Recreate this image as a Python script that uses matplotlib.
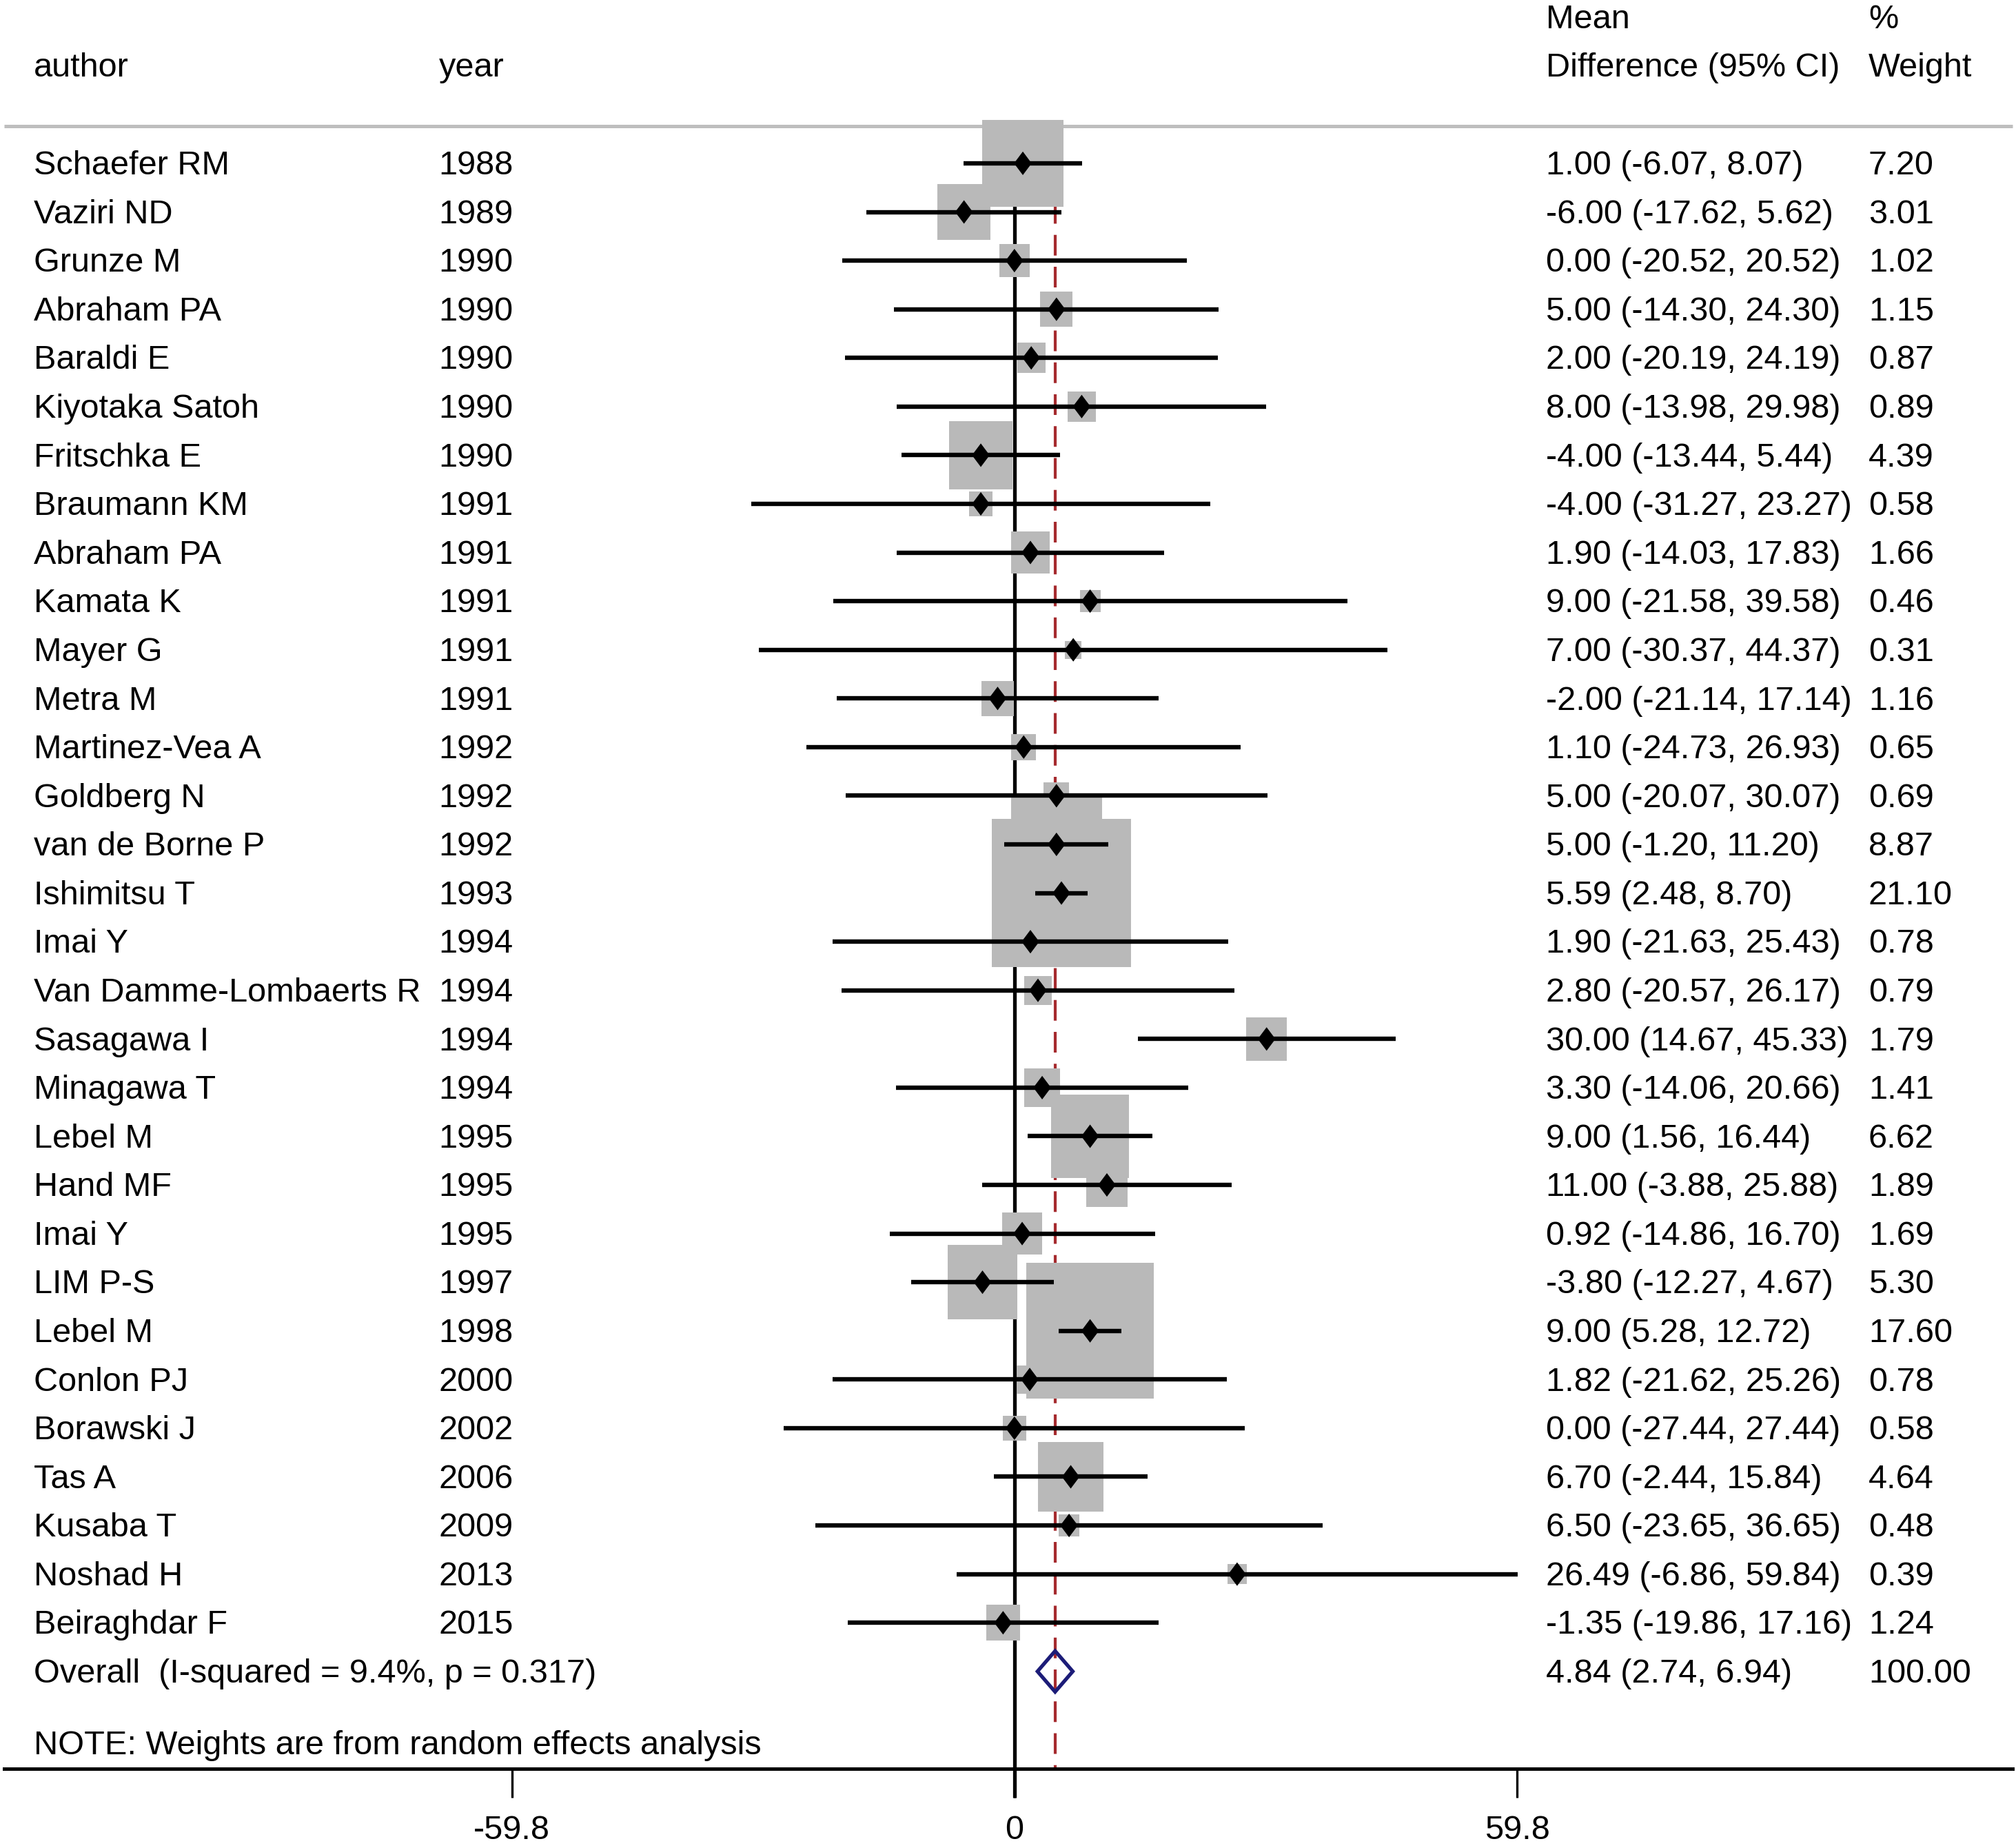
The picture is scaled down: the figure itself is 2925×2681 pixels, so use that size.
import matplotlib.pyplot as plt

# study data
authors = ["Schaefer RM", "Vaziri ND", "Grunze M", "Abraham PA", "Baraldi E",
           "Kiyotaka Satoh", "Fritschka E", "Braumann KM", "Abraham PA", "Kamata K",
           "Mayer G", "Metra M", "Martinez-Vea A", "Goldberg N", "van de Borne P",
           "Ishimitsu T", "Imai Y", "Van Damme-Lombaerts R", "Sasagawa I", "Minagawa T",
           "Lebel M", "Hand MF", "Imai Y", "LIM P-S", "Lebel M",
           "Conlon PJ", "Borawski J", "Tas A", "Kusaba T", "Noshad H", "Beiraghdar F"]
years = [1988, 1989, 1990, 1990, 1990, 1990, 1990, 1991, 1991, 1991,
         1991, 1991, 1992, 1992, 1992, 1993, 1994, 1994, 1994, 1994,
         1995, 1995, 1995, 1997, 1998, 2000, 2002, 2006, 2009, 2013, 2015]
md = [1.00, -6.00, 0.00, 5.00, 2.00, 8.00, -4.00, -4.00, 1.90, 9.00,
      7.00, -2.00, 1.10, 5.00, 5.00, 5.59, 1.90, 2.80, 30.00, 3.30,
      9.00, 11.00, 0.92, -3.80, 9.00, 1.82, 0.00, 6.70, 6.50, 26.49, -1.35]
ci_lo = [-6.07, -17.62, -20.52, -14.30, -20.19, -13.98, -13.44, -31.27, -14.03, -21.58,
         -30.37, -21.14, -24.73, -20.07, -1.20, 2.48, -21.63, -20.57, 14.67, -14.06,
         1.56, -3.88, -14.86, -12.27, 5.28, -21.62, -27.44, -2.44, -23.65, -6.86, -19.86]
ci_hi = [8.07, 5.62, 20.52, 24.30, 24.19, 29.98, 5.44, 23.27, 17.83, 39.58,
         44.37, 17.14, 26.93, 30.07, 11.20, 8.70, 25.43, 26.17, 45.33, 20.66,
         16.44, 25.88, 16.70, 4.67, 12.72, 25.26, 27.44, 15.84, 36.65, 59.84, 17.16]
weights = [7.20, 3.01, 1.02, 1.15, 0.87, 0.89, 4.39, 0.58, 1.66, 0.46,
           0.31, 1.16, 0.65, 0.69, 8.87, 21.10, 0.78, 0.79, 1.79, 1.41,
           6.62, 1.89, 1.69, 5.30, 17.60, 0.78, 0.58, 4.64, 0.48, 0.39, 1.24]

overall_md = 4.84
overall_lo = 2.74
overall_hi = 6.94
overall_wt = 100.00
overall_label = "Overall  (I-squared = 9.4%, p = 0.317)"
note_text = "NOTE: Weights are from random effects analysis"

tick_vals = [-59.8, 0, 59.8]
tick_labels = ["-59.8", "0", "59.8"]

plt.rcParams['font.family'] = ['Liberation Sans', 'DejaVu Sans']
fs = 17.5

fig = plt.figure(figsize=(14.625, 13.405), dpi=200)
ax = fig.add_axes([0, 0, 1, 1])
ax.set_xlim(-120.68, 119.15)
ax.set_ylim(34.63, -3.357)
ax.patch.set_visible(False)

rows = list(range(len(authors)))
n = len(authors)

# text columns (x in effect units since the axes fills the figure)
col_author, col_year, col_es, col_wt = -116.7, -68.5, 63.2, 101.6
base = 0.23

# header
ax.text(col_author, -1.78, "author", fontsize=fs)
ax.text(col_year, -1.78, "year", fontsize=fs)
ax.text(col_es, -2.77, "Mean", fontsize=fs)
ax.text(col_es, -1.78, "Difference (95% CI)", fontsize=fs)
ax.text(col_wt, -2.77, "%", fontsize=fs)
ax.text(col_wt, -1.78, "Weight", fontsize=fs)
ax.hlines(-0.77, -120.2, 118.7, colors='#BEBEBE', lw=1.8, zorder=1)

# reference lines
ax.vlines(0, -0.5, 33.6, colors='black', lw=1.9, zorder=1)
ax.plot([overall_md, overall_md], [-0.5, 33.0], color='#A52A2E', lw=1.5,
        dashes=[7.2, 3.9], zorder=1)

# weight boxes, CI lines and point estimates
box_marker = [(-0.94, -1), (0.94, -1), (0.94, 1), (-0.94, 1), (-0.94, -1)]
ax.scatter(md, rows, s=[285.6 * w for w in weights], marker=box_marker,
           color='#B9B9B9', edgecolors='none', zorder=2)
ax.hlines(rows, ci_lo, ci_hi, colors='black', lw=2.3, zorder=3, capstyle='butt')
diamond = [(0, 1), (0.75, 0), (0, -1), (-0.75, 0), (0, 1)]
ax.scatter(md, rows, s=12.3 ** 2, marker=diamond, color='black',
           edgecolors='none', zorder=4)

for i in rows:
    ax.text(col_author, i + base, authors[i], fontsize=fs)
    ax.text(col_year, i + base, str(years[i]), fontsize=fs)
    ax.text(col_es, i + base, f"{md[i]:.2f} ({ci_lo[i]:.2f}, {ci_hi[i]:.2f})", fontsize=fs)
    ax.text(col_wt, i + base, f"{weights[i]:.2f}", fontsize=fs)

# overall
ax.fill([overall_lo, overall_md, overall_hi, overall_md],
        [n, n - 0.42, n, n + 0.42], facecolor='none', edgecolor='#1C1C78',
        lw=1.9, zorder=4, joinstyle='miter')
ax.text(col_author, n + base, overall_label, fontsize=fs)
ax.text(col_es, n + base, f"{overall_md:.2f} ({overall_lo:.2f}, {overall_hi:.2f})", fontsize=fs)
ax.text(col_wt, n + base, f"{overall_wt:.2f}", fontsize=fs)
ax.text(col_author, 32.70, note_text, fontsize=fs)

# x axis
for s in ['top', 'left', 'right']:
    ax.spines[s].set_visible(False)
ax.spines['bottom'].set_position(('data', 33.0))
ax.spines['bottom'].set_linewidth(1.8)
ax.spines['bottom'].set_bounds(-120.2, 118.7)
ax.set_xticks(tick_vals)
ax.set_xticklabels(tick_labels, fontsize=fs)
ax.tick_params(axis='x', direction='out', length=15, width=1.2, pad=9)
ax.set_yticks([])

fig.savefig('out.png', dpi=200)
